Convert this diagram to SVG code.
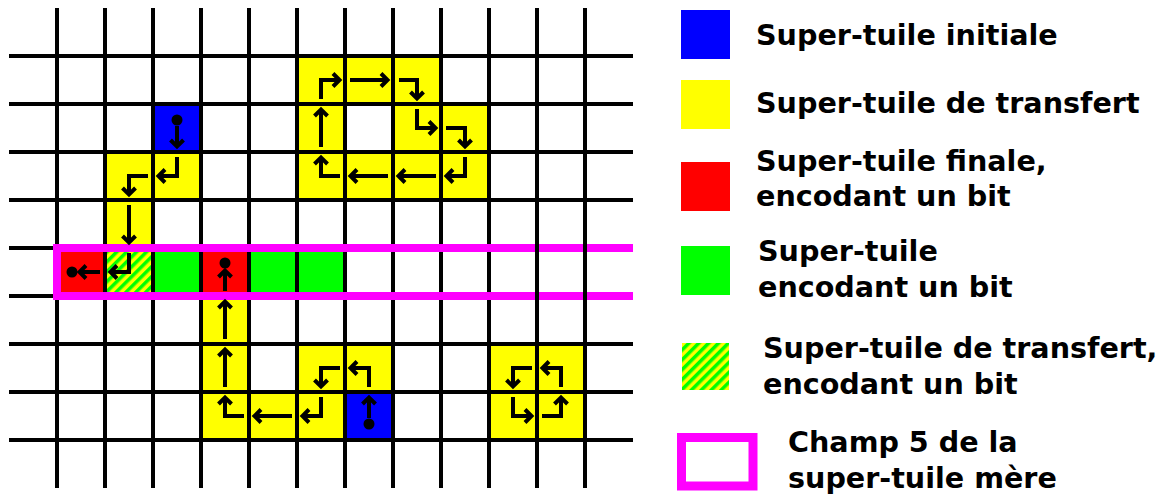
<svg xmlns="http://www.w3.org/2000/svg" width="1165" height="496" viewBox="0 0 1165 496">
<defs>
<style>
.y{fill:#ffff00}.b{fill:#0000ff}.r{fill:#ff0000}.g{fill:#00ff00}.h{fill:url(#hatch)}
.grid line{stroke:#000;stroke-width:4}
.a{fill:none;stroke:#000;stroke-width:4;stroke-linejoin:miter;marker-end:url(#head)}
.dot{fill:#000}
.t{font-family:"DejaVu Sans","Liberation Sans",sans-serif;font-weight:bold;font-size:28.6px;fill:#000}
</style>
<pattern id="hatch" patternUnits="userSpaceOnUse" width="7" height="7" patternTransform="rotate(45)">
<rect x="0" y="0" width="7" height="7" fill="#ffff00"/>
<rect x="0" y="0" width="3.5" height="7" fill="#00ff00"/>
</pattern>
<marker id="head" markerUnits="userSpaceOnUse" markerWidth="20" markerHeight="20" viewBox="-10 -10 20 20" refX="0" refY="0" orient="auto" overflow="visible">
<path d="M-7,-6.5 L-0.5,0 L-7,6.5" fill="none" stroke="#000" stroke-width="4" stroke-linejoin="miter"/>
</marker>
</defs>
<rect width="1165" height="496" fill="#fff"/>

<g id="cells">
<g id="c-top1"><rect class="y" x="297" y="56" width="48" height="48"/></g>
<g id="c-top2"><rect class="y" x="345" y="56" width="48" height="48"/></g>
<g id="c-top3"><rect class="y" x="393" y="56" width="48" height="48"/></g>
<g id="c-top4"><rect class="y" x="297" y="104" width="48" height="48"/></g>
<g id="c-top5"><rect class="y" x="393" y="104" width="48" height="48"/></g>
<g id="c-top6"><rect class="y" x="441" y="104" width="48" height="48"/></g>
<g id="c-top7"><rect class="y" x="441" y="152" width="48" height="48"/></g>
<g id="c-top8"><rect class="y" x="393" y="152" width="48" height="48"/></g>
<g id="c-top9"><rect class="y" x="345" y="152" width="48" height="48"/></g>
<g id="c-top10"><rect class="y" x="297" y="152" width="48" height="48"/></g>
<g id="c-init1"><rect class="b" x="153" y="104" width="48" height="48"/></g>
<g id="c-l1"><rect class="y" x="153" y="152" width="48" height="48"/></g>
<g id="c-l2"><rect class="y" x="105" y="152" width="48" height="48"/></g>
<g id="c-l3"><rect class="y" x="105" y="200" width="48" height="48"/></g>
<g id="c-hatch"><rect class="h" x="105" y="248" width="48" height="48"/></g>
<g id="c-final1"><rect class="r" x="57" y="248" width="48" height="48"/></g>
<g id="c-green1"><rect class="g" x="153" y="248" width="48" height="48"/></g>
<g id="c-final2"><rect class="r" x="201" y="248" width="48" height="48"/></g>
<g id="c-green2"><rect class="g" x="249" y="248" width="48" height="48"/></g>
<g id="c-green3"><rect class="g" x="297" y="248" width="48" height="48"/></g>
<g id="c-b1"><rect class="y" x="201" y="296" width="48" height="48"/></g>
<g id="c-b2"><rect class="y" x="201" y="344" width="48" height="48"/></g>
<g id="c-b3"><rect class="y" x="201" y="392" width="48" height="48"/></g>
<g id="c-b4"><rect class="y" x="249" y="392" width="48" height="48"/></g>
<g id="c-b5"><rect class="y" x="297" y="392" width="48" height="48"/></g>
<g id="c-b6"><rect class="y" x="297" y="344" width="48" height="48"/></g>
<g id="c-b7"><rect class="y" x="345" y="344" width="48" height="48"/></g>
<g id="c-init2"><rect class="b" x="345" y="392" width="48" height="48"/></g>
<g id="c-r1"><rect class="y" x="489" y="344" width="48" height="48"/></g>
<g id="c-r2"><rect class="y" x="537" y="344" width="48" height="48"/></g>
<g id="c-r3"><rect class="y" x="489" y="392" width="48" height="48"/></g>
<g id="c-r4"><rect class="y" x="537" y="392" width="48" height="48"/></g>
</g>

<g class="grid" id="grid">
<line x1="57" y1="8" x2="57" y2="488"/>
<line x1="105" y1="8" x2="105" y2="488"/>
<line x1="153" y1="8" x2="153" y2="488"/>
<line x1="201" y1="8" x2="201" y2="488"/>
<line x1="249" y1="8" x2="249" y2="488"/>
<line x1="297" y1="8" x2="297" y2="488"/>
<line x1="345" y1="8" x2="345" y2="488"/>
<line x1="393" y1="8" x2="393" y2="488"/>
<line x1="441" y1="8" x2="441" y2="488"/>
<line x1="489" y1="8" x2="489" y2="488"/>
<line x1="9" y1="56" x2="633" y2="56"/>
<line x1="9" y1="104" x2="633" y2="104"/>
<line x1="9" y1="152" x2="633" y2="152"/>
<line x1="9" y1="200" x2="633" y2="200"/>
<line x1="9" y1="248" x2="633" y2="248"/>
<line x1="9" y1="296" x2="633" y2="296"/>
<line x1="9" y1="344" x2="633" y2="344"/>
<line x1="9" y1="392" x2="633" y2="392"/>
<line x1="9" y1="440" x2="633" y2="440"/>
</g>

<g id="field5">
<path d="M633,248 H57 V296 H633" fill="none" stroke="#ff00ff" stroke-width="8" stroke-linejoin="miter"/>
</g>

<g class="grid" id="grid-top">
<line x1="537" y1="8" x2="537" y2="488"/>
<line x1="585" y1="8" x2="585" y2="488"/>
</g>

<g id="connectors">
<path class="a" d="M321,99 V80 H340"/>
<path class="a" d="M350,80 H388"/>
<path class="a" d="M399,80 H417 V99"/>
<path class="a" d="M321,147 V109"/>
<path class="a" d="M417,109 V128 H436"/>
<path class="a" d="M446,128 H465 V147"/>
<path class="a" d="M465,157 V176 H446"/>
<path class="a" d="M436,176 H398"/>
<path class="a" d="M388,176 H350"/>
<path class="a" d="M340,176 H321 V157"/>
<circle class="dot" cx="177" cy="120" r="5.5"/>
<path class="a" d="M177,126 V147"/>
<path class="a" d="M177,157 V176 H158"/>
<path class="a" d="M148,176 H129 V195"/>
<path class="a" d="M129,205 V243"/>
<path class="a" d="M129,253 V272 H110"/>
<circle class="dot" cx="72" cy="272" r="5.5"/>
<path class="a" d="M100,272 H79"/>
<circle class="dot" cx="225" cy="263" r="5.5"/>
<path class="a" d="M225,291 V270"/>
<path class="a" d="M225,339 V301"/>
<path class="a" d="M225,387 V349"/>
<path class="a" d="M244,416 H225 V397"/>
<path class="a" d="M292,416 H254"/>
<path class="a" d="M321,397 V416 H302"/>
<path class="a" d="M340,368 H321 V387"/>
<path class="a" d="M369,387 V368 H350"/>
<circle class="dot" cx="369" cy="424" r="5.5"/>
<path class="a" d="M369,418 V397"/>
<path class="a" d="M532,368 H513 V387"/>
<path class="a" d="M561,387 V368 H542"/>
<path class="a" d="M513,397 V416 H532"/>
<path class="a" d="M542,416 H561 V397"/>
</g>

<g id="legend">
<g id="leg-initial"><rect class="b" x="681" y="10" width="49" height="49"/><text class="t" x="756" y="45">Super-tuile initiale</text></g>
<g id="leg-transfer"><rect class="y" x="681" y="80" width="49" height="49"/><text class="t" x="756" y="113">Super-tuile de transfert</text></g>
<g id="leg-final"><rect class="r" x="681" y="162" width="49" height="49"/><text class="t" x="756" y="171">Super-tuile finale,</text><text class="t" x="756" y="206">encodant un bit</text></g>
<g id="leg-bit"><rect class="g" x="681" y="246" width="49" height="49"/><text class="t" x="758" y="261">Super-tuile</text><text class="t" x="758" y="297">encodant un bit</text></g>
<g id="leg-hatch"><rect class="h" x="682" y="343" width="47" height="47"/><text class="t" x="763" y="358">Super-tuile de transfert,</text><text class="t" x="763" y="394">encodant un bit</text></g>
<g id="leg-field"><rect x="681.5" y="437.5" width="71.5" height="48.5" fill="none" stroke="#ff00ff" stroke-width="9"/><text class="t" x="788" y="452">Champ 5 de la</text><text class="t" x="788" y="488">super-tuile mère</text></g>
</g>
</svg>
